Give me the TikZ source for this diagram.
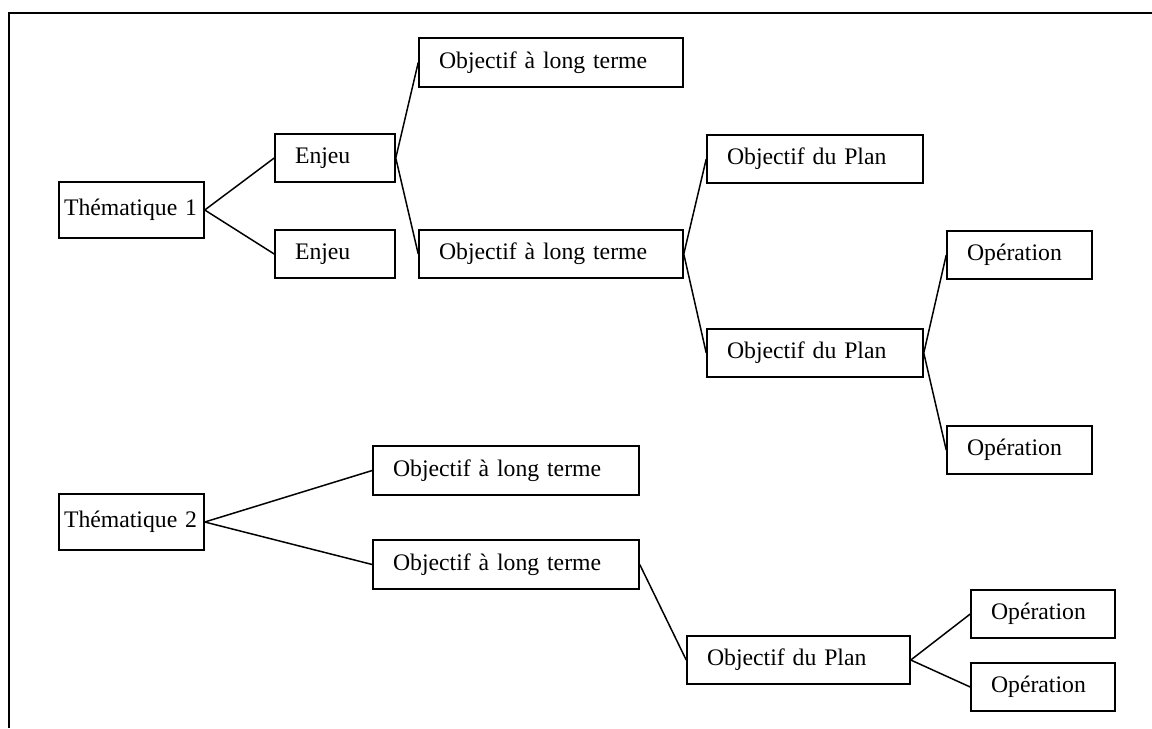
\documentclass[tikz,border=0pt]{standalone}
\usepackage{fontspec}
\setmainfont{Liberation Serif}

\tikzset{
  box/.style={draw, line width=0.9pt, rectangle, inner xsep=0.4cm, inner ysep=0pt,
    minimum height=0.96cm, text width=#1, align=left,
    font=\fontsize{13.5}{16}\selectfont},
  theme/.style={box=2.7cm, inner xsep=0.1cm, minimum height=1.12cm},
  link/.style={line width=0.85pt}
}

\begin{document}
\begin{tikzpicture}[x=0.02cm, y=-0.02cm]

  % Page size, in pixels of the reference
  \useasboundingbox (0,0) rectangle (1152,728);

  % Frame (cut off on the right and at the bottom)
  \coordinate (FR) at (1152,13);
  \coordinate (FC) at (9,13);
  \coordinate (FB) at (9,728);
  \draw[line width=0.9pt] (FR) -- (FC) -- (FB);

  % First theme
  \node[theme] (th1) at (131.5,210) {Thématique 1};
  \node[box=1.6cm] (enj1) at (335,158) {Enjeu};
  \node[box=1.6cm] (enj2) at (335,254) {Enjeu};
  \node[box=4.48cm, minimum height=0.98cm] (olt1) at (551,62.5) {Objectif à long terme};
  \node[box=4.48cm] (olt2) at (551,254) {Objectif à long terme};
  \node[box=3.52cm] (odp1) at (815,159) {Objectif du Plan};
  \node[box=3.52cm] (odp2) at (815,353) {Objectif du Plan};
  \node[box=2.1cm] (op1) at (1019.5,255) {Opération};
  \node[box=2.1cm] (op2) at (1019.5,450) {Opération};

  % Second theme
  \node[theme] (th2) at (131.5,522) {Thématique 2};
  \node[box=4.52cm, minimum height=0.98cm] (olt3) at (506,470.5) {Objectif à long terme};
  \node[box=4.52cm, minimum height=0.98cm] (olt4) at (506,564.5) {Objectif à long terme};
  \node[box=3.66cm] (odp3) at (798.5,660) {Objectif du Plan};
  \node[box=2.08cm] (op3) at (1043,614) {Opération};
  \node[box=2.08cm] (op4) at (1043,687) {Opération};

  % Links of the first theme
  \draw[link] (th1.east) -- (enj1.west);
  \draw[link] (th1.east) -- (enj2.west);
  \draw[link] (enj1.east) -- (olt1.west);
  \draw[link] (enj1.east) -- (olt2.west);
  \draw[link] (olt2.east) -- (odp1.west);
  \draw[link] (olt2.east) -- (odp2.west);
  \draw[link] (odp2.east) -- (op1.west);
  \draw[link] (odp2.east) -- (op2.west);

  % Links of the second theme
  \draw[link] (th2.east) -- (olt3.west);
  \draw[link] (th2.east) -- (olt4.west);
  \draw[link] (olt4.east) -- (odp3.west);
  \draw[link] (odp3.east) -- (op3.west);
  \draw[link] (odp3.east) -- (op4.west);

\end{tikzpicture}
\end{document}
